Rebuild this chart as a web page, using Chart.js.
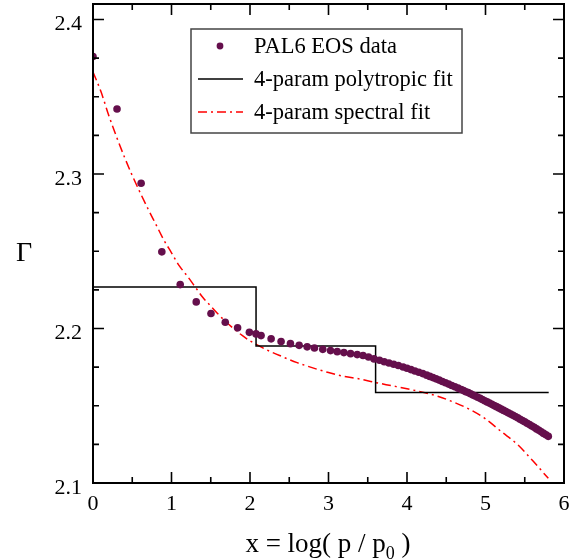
<!DOCTYPE html>
<html>
<head>
<meta charset="utf-8">
<script src="https://cdn.jsdelivr.net/npm/chart.js@4.4.1/dist/chart.umd.min.js"></script>
<style>
  html, body { margin: 0; padding: 0; background: #fff; }
  #wrap { width: 582px; height: 560px; }
</style>
</head>
<body>
<div id="wrap"><canvas id="gammaChart" width="582" height="560"></canvas></div>
<script>
// PAL6 EOS data points (x = log(p/p0), Gamma)
const eosX = [0, 0.306, 0.613, 0.877, 1.111, 1.315, 1.503, 1.685, 1.842, 1.992, 2.077, 2.141,
  2.269, 2.396, 2.515, 2.626, 2.728, 2.821, 2.927, 3.026, 3.111, 3.196, 3.281, 3.366,
  3.44, 3.51, 3.58, 3.65, 3.71, 3.77, 3.83, 3.89, 3.95, 4.00, 4.05, 4.10, 4.15, 4.20,
  4.25, 4.29, 4.33, 4.37, 4.41, 4.45, 4.49, 4.53, 4.57, 4.61, 4.65, 4.69, 4.72, 4.75,
  4.78, 4.81, 4.84, 4.87, 4.90, 4.93, 4.96, 4.99, 5.02, 5.05, 5.08, 5.11, 5.14, 5.17,
  5.20, 5.23, 5.26, 5.29, 5.32, 5.35, 5.38, 5.41, 5.44, 5.47, 5.50, 5.53, 5.56, 5.59,
  5.62, 5.65, 5.68, 5.71, 5.74, 5.77, 5.80];
const eosGamma = [2.376, 2.342, 2.294, 2.2496, 2.2284, 2.2172, 2.2097, 2.204, 2.2004, 2.1975, 2.1965, 2.1954,
  2.1933, 2.1915, 2.1902, 2.1891, 2.1881, 2.1874, 2.1865, 2.1857, 2.1850, 2.1844, 2.1837, 2.1831,
  2.1825, 2.1815, 2.1803, 2.1794, 2.1785, 2.1777, 2.1769, 2.1760, 2.1751, 2.1743, 2.1734, 2.1725, 2.1717, 2.1708,
  2.1698, 2.1690, 2.1682, 2.1674, 2.1666, 2.1657, 2.1649, 2.1640, 2.1631, 2.1623, 2.1614, 2.1605, 2.1598, 2.1591,
  2.1585, 2.1578, 2.1570, 2.1563, 2.1555, 2.1548, 2.1540, 2.1532, 2.1525, 2.1517, 2.1509, 2.1501, 2.1494, 2.1486,
  2.1478, 2.1470, 2.1462, 2.1454, 2.1446, 2.1438, 2.1430, 2.1422, 2.1413, 2.1404, 2.1396, 2.1387, 2.1378, 2.1369,
  2.1360, 2.1350, 2.1341, 2.1331, 2.1321, 2.1312, 2.1302];

// 4-param polytropic fit (piecewise constant)
const polyX = [0, 2.077, 3.6, 5.805];
const polyGamma = [2.2269, 2.1887, 2.1585, 2.1585];

// 4-param spectral fit
const specX = [0, 0.1, 0.2, 0.3, 0.4, 0.5, 0.6, 0.7, 0.8, 0.9, 1.0, 1.1, 1.2, 1.3, 1.4, 1.5, 1.6, 1.7,
  1.8, 1.9, 2.0, 2.2, 2.4, 2.6, 2.8, 3.0, 3.2, 3.4, 3.6, 3.8, 4.0, 4.2, 4.4, 4.6, 4.8, 5.0, 5.2, 5.4, 5.6, 5.8];
const specGamma = [2.366, 2.3535, 2.338, 2.324, 2.311, 2.299, 2.288, 2.2775, 2.2675, 2.2575, 2.249, 2.2405,
  2.234, 2.227, 2.220, 2.2145, 2.209, 2.204, 2.1995, 2.1955, 2.192, 2.1865, 2.182, 2.1779, 2.1745, 2.1715,
  2.169, 2.1673, 2.165, 2.163, 2.161, 2.1587, 2.156, 2.1522, 2.1476, 2.1415, 2.1333, 2.1253, 2.1145, 2.1030];

const xTicks = [0, 1, 2, 3, 4, 5, 6];
const yTicks = [2.1, 2.2, 2.3, 2.4];
const legendLabels = ["PAL6 EOS data", "4-param polytropic fit", "4-param spectral fit"];

const SERIF = '"Liberation Serif", "Times New Roman", serif';
const DOT = "#650f4c";
const DASHDOT = [9, 4, 2, 4];
const toPts = (xs, ys) => xs.map((x, i) => ({ x: x, y: ys[i] }));

// frame, inward ticks, legend and axis titles
const decor = {
  id: "decor",
  afterDraw(chart) {
    const { ctx, chartArea: a, scales } = chart;
    const xs = scales.x, ys = scales.y;
    ctx.save();
    ctx.strokeStyle = "#000";
    ctx.lineWidth = 2;
    ctx.strokeRect(a.left, a.top, a.right - a.left, a.bottom - a.top);

    ctx.lineWidth = 1.6;
    ctx.beginPath();
    for (let v = 0; v <= 6.001; v += 0.5) {
      const px = xs.getPixelForValue(v);
      const len = Math.abs(v - Math.round(v)) < 1e-6 ? 11 : 6;
      ctx.moveTo(px, a.bottom); ctx.lineTo(px, a.bottom - len);
      ctx.moveTo(px, a.top); ctx.lineTo(px, a.top + len);
    }
    for (let k = 0; k <= 12; k++) {
      const v = 2.1 + k * 0.025;
      const py = ys.getPixelForValue(v);
      const len = k % 4 === 0 ? 11 : 6;
      ctx.moveTo(a.left, py); ctx.lineTo(a.left + len, py);
      ctx.moveTo(a.right, py); ctx.lineTo(a.right - len, py);
    }
    ctx.stroke();

    // legend
    const bx = 191, by = 29, bw = 271, bh = 104;
    ctx.fillStyle = "#fff";
    ctx.fillRect(bx, by, bw, bh);
    ctx.strokeStyle = "#444";
    ctx.lineWidth = 1.5;
    ctx.strokeRect(bx, by, bw, bh);
    const rows = [46, 79, 112];
    ctx.fillStyle = DOT;
    ctx.beginPath(); ctx.arc(220, rows[0], 3.4, 0, Math.PI * 2); ctx.fill();
    ctx.strokeStyle = "#000"; ctx.lineWidth = 1.5;
    ctx.beginPath(); ctx.moveTo(198, rows[1]); ctx.lineTo(243, rows[1]); ctx.stroke();
    ctx.strokeStyle = "#ff0000"; ctx.lineWidth = 1.5;
    ctx.setLineDash(DASHDOT);
    ctx.beginPath(); ctx.moveTo(198, rows[2]); ctx.lineTo(243, rows[2]); ctx.stroke();
    ctx.setLineDash([]);
    ctx.fillStyle = "#000";
    ctx.font = "22.5px " + SERIF;
    ctx.textBaseline = "middle";
    ctx.textAlign = "left";
    legendLabels.forEach((t, i) => ctx.fillText(t, 254, rows[i] + 1));

    // axis titles
    ctx.textBaseline = "alphabetic";
    ctx.font = "28px " + SERIF;
    ctx.fillText("\u0393", 16, 261);
    ctx.font = "27px " + SERIF;
    const main = "x = log( p / p", tail = " )";
    const wMain = ctx.measureText(main).width;
    const wTail = ctx.measureText(tail).width;
    ctx.font = "18px " + SERIF;
    const wSub = ctx.measureText("0").width;
    const start = 328 - (wMain + wSub + wTail) / 2;
    ctx.font = "27px " + SERIF;
    ctx.fillText(main, start, 552);
    ctx.fillText(tail, start + wMain + wSub, 552);
    ctx.font = "18px " + SERIF;
    ctx.fillText("0", start + wMain, 559);
    ctx.restore();
  }
};

new Chart(document.getElementById("gammaChart"), {
  type: "scatter",
  data: {
    datasets: [
      {
        label: legendLabels[0],
        data: toPts(eosX, eosGamma),
        backgroundColor: DOT,
        borderColor: DOT,
        pointRadius: 3.8,
        pointBorderWidth: 0,
        order: 1
      },
      {
        label: legendLabels[1],
        type: "line",
        data: toPts(polyX, polyGamma),
        borderColor: "#000",
        borderWidth: 1.5,
        pointRadius: 0,
        stepped: "before",
        fill: false,
        order: 2
      },
      {
        label: legendLabels[2],
        type: "line",
        data: toPts(specX, specGamma),
        borderColor: "#ff0000",
        borderWidth: 1.5,
        borderDash: DASHDOT,
        pointRadius: 0,
        cubicInterpolationMode: "monotone",
        fill: false,
        order: 3
      }
    ]
  },
  options: {
    responsive: false,
    animation: false,
    events: [],
    layout: { padding: { left: 0, right: 18, top: 4, bottom: 0 } },
    plugins: { legend: { display: false }, tooltip: { enabled: false } },
    scales: {
      x: {
        type: "linear",
        min: 0, max: 6,
        grid: { display: false, drawTicks: false },
        border: { display: false },
        afterBuildTicks: s => { s.ticks = xTicks.map(v => ({ value: v })); },
        afterFit: s => { s.height = 77; s.paddingLeft = 0; s.paddingRight = 0; },
        ticks: { color: "#000", padding: 8, font: { family: SERIF, size: 22 }, maxRotation: 0 }
      },
      y: {
        type: "linear",
        min: 2.1, max: 2.41,
        grid: { display: false, drawTicks: false },
        border: { display: false },
        afterBuildTicks: s => { s.ticks = yTicks.map(v => ({ value: v })); },
        afterFit: s => { s.width = 93; s.paddingTop = 0; s.paddingBottom = 0; },
        ticks: {
          color: "#000", padding: 11, labelOffset: 5,
          font: { family: SERIF, size: 22 },
          callback: v => v.toFixed(1)
        }
      }
    }
  },
  plugins: [decor]
});
</script>
</body>
</html>
